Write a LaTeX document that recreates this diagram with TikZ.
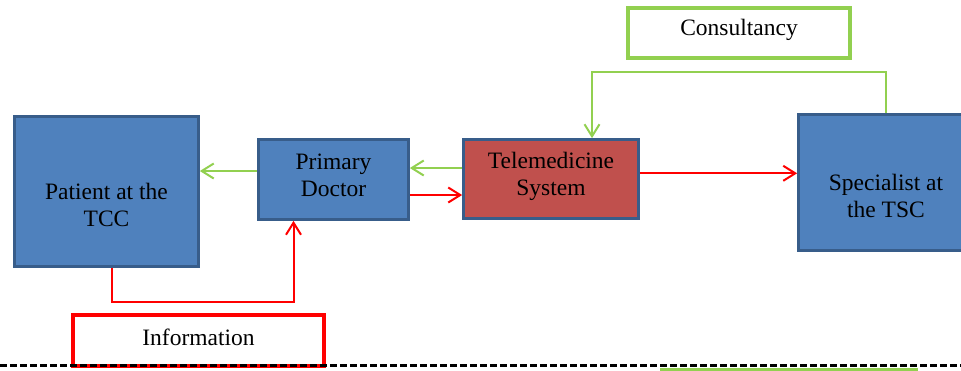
\documentclass[tikz,border=0pt]{standalone}
\usepackage{fontspec}
\setmainfont{Liberation Serif}
\usetikzlibrary{arrows.meta}
\definecolor{boxblue}{HTML}{4F81BD}
\definecolor{boxedge}{HTML}{385D8A}
\definecolor{boxred}{HTML}{C0504D}
\definecolor{flowgreen}{HTML}{92D050}
\definecolor{flowred}{HTML}{FF0000}
\tikzset{
  bluebox/.style={draw=boxedge, fill=boxblue, line width=2.7pt, inner sep=0pt},
  redbox/.style={draw=boxedge, fill=boxred, line width=2.7pt, inner sep=0pt},
  notebox/.style={fill=white, inner sep=0pt},
  lbl/.style={align=center, inner sep=0pt, font=\fontsize{23.5}{27}\selectfont},
  barb/.style={-{Straight Barb[length=12pt,width=15pt,line width=2pt]}},
  gflow/.style={draw=flowgreen, line width=2pt, barb},
  rflow/.style={draw=flowred, line width=2pt, barb},
}
\begin{document}
\begin{tikzpicture}[x=1pt, y=-1pt]
\useasboundingbox (0,0) rectangle (961,370);
\clip (0,0) rectangle (961,370);

% main boxes
\node[bluebox, minimum width=184pt, minimum height=150pt] (pat) at (106.5,191.5) {};
\node[lbl] (patT) at ([yshift=-13pt]pat.center) {Patient at the\\TCC};

\node[bluebox, minimum width=150pt, minimum height=80pt] (doc) at (333.5,179.5) {};
\node[lbl] (docT) at ([yshift=4pt]doc.center) {Primary\\Doctor};

\node[redbox, minimum width=175pt, minimum height=79pt] (tele) at (551,179) {};
\node[lbl] (teleT) at ([yshift=3pt]tele.center) {Telemedicine\\System};

\node[bluebox, minimum width=175pt, minimum height=136pt] (spec) at (886,182.5) {};
\node[lbl] (specT) at ([yshift=-13.5pt]spec.center) {Specialist at\\the TSC};

% flow labels
\node[notebox, draw=flowgreen, line width=3.5pt, minimum width=222pt, minimum height=50pt] (cons) at (739,33) {};
\node[lbl] (consT) at ([yshift=3.3pt]cons.center) {Consultancy};

\node[notebox, draw=flowred, line width=4pt, minimum width=251pt, minimum height=51pt] (info) at (198.5,340.5) {};
\node[lbl] (infoT) at ([yshift=3.5pt]info.center) {Information};

% connectors
\draw[gflow] ([yshift=8.5pt]doc.west) -- ([yshift=8.5pt]doc.west -| pat.east);
\draw[gflow] ([yshift=11pt]tele.west) -- ([yshift=11pt]tele.west -| doc.east);
\draw[rflow] ([yshift=-15.5pt]doc.east) -- ([yshift=-15.5pt]doc.east -| tele.west);
\draw[rflow] ([yshift=5.7pt]tele.east) -- ([yshift=5.7pt]tele.east -| spec.west);
\draw[rflow] ([xshift=5pt]pat.south) -- ++(0,34) -| ([xshift=-40pt]doc.south);
\draw[gflow] (spec.north) -- ++(0,-41) -| ([xshift=41pt]tele.north);

% separator and the box below it
\draw[black, line width=2.6pt, dash pattern=on 7pt off 3pt] (0,365.5) -- (961,365.5);
\draw[flowgreen, line width=3pt] (661,369.5) rectangle (916,420);
\end{tikzpicture}
\end{document}
